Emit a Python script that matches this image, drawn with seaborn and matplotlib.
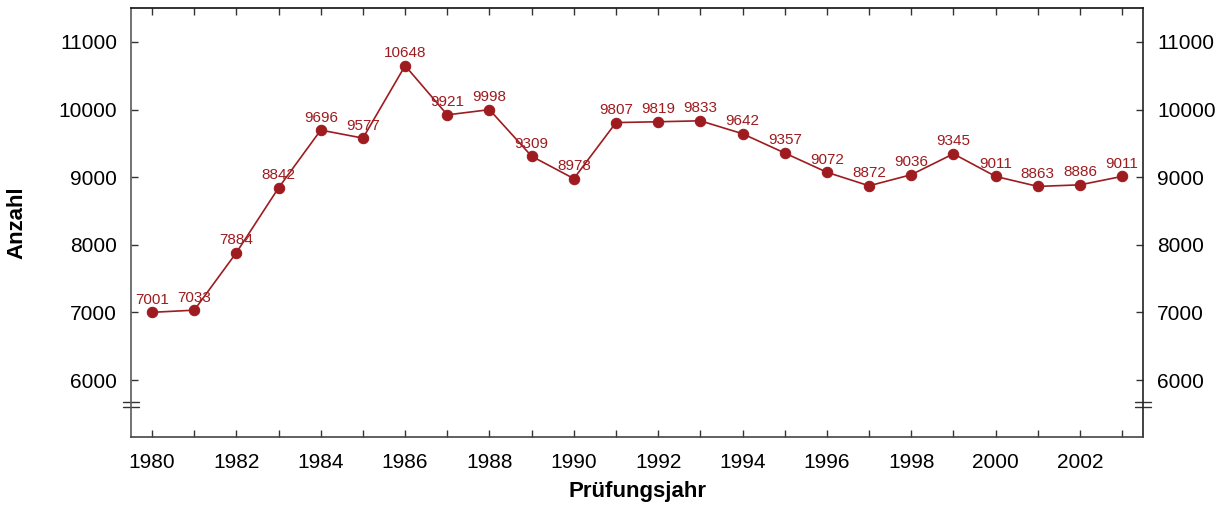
import pandas as pd
import matplotlib.pyplot as plt
import seaborn as sns

# Daten: Prüfungsjahr und Anzahl
years = list(range(1980, 2004))
counts = [7001, 7033, 7884, 8842, 9696, 9577, 10648, 9921, 9998, 9309, 8978,
          9807, 9819, 9833, 9642, 9357, 9072, 8872, 9036, 9345, 9011, 8863,
          8886, 9011]
tick_years = list(range(1980, 2003, 2))
y_ticks = [6000, 7000, 8000, 9000, 10000, 11000]

df = pd.DataFrame({"Prüfungsjahr": years, "Anzahl": counts})

sns.set_style("ticks")
plt.rcParams['font.family'] = ['Liberation Sans', 'DejaVu Sans']

red = '#9e1b1f'

fig, ax = plt.subplots(figsize=(12.24, 5.05), dpi=100)
fig.subplots_adjust(left=0.107, right=0.934, top=0.984, bottom=0.135)

sns.lineplot(data=df, x="Prüfungsjahr", y="Anzahl", ax=ax, color=red,
             marker='o', markersize=7.5, markeredgecolor=red, linewidth=1.2)

# Werte über den Punkten
for x, y in zip(years, counts):
    ax.annotate(str(y), (x, y), xytext=(0, 4), textcoords='offset points',
                ha='center', va='bottom', color=red, fontsize=11)

ax.set_xlim(1979.5, 2003.5)
ax.set_ylim(5160, 11500)
ax.set_xticks(tick_years)
ax.set_xticks(years, minor=True)
ax.set_yticks(y_ticks)

ax.tick_params(axis='both', which='both', direction='in', labelsize=15,
               top=True, right=True, labelright=True, length=5, width=1,
               labelcolor='black', color='#333333')
ax.tick_params(axis='x', which='minor', length=5)
ax.tick_params(axis='x', pad=12)
ax.tick_params(axis='y', pad=10)

spine_colors = {'left': '#5a5a5a', 'bottom': '#444444',
                'top': '#111111', 'right': '#222222'}
for side, col in spine_colors.items():
    ax.spines[side].set_visible(True)
    ax.spines[side].set_linewidth(1.2)
    ax.spines[side].set_color(col)

ax.set_xlabel("Prüfungsjahr", fontsize=16, fontweight='bold', labelpad=6,
              color='black')
ax.set_ylabel("Anzahl", fontsize=16, fontweight='bold', labelpad=22,
              color='black')

# Achsenbruch-Markierung links und rechts
for xpos in (0, 1):
    for yv in (5600, 5680):
        ax.plot([xpos - 0.008, xpos + 0.008], [yv, yv], color='#333333', lw=1,
                transform=ax.get_yaxis_transform(), clip_on=False)

fig.savefig('out.png', dpi=100)
